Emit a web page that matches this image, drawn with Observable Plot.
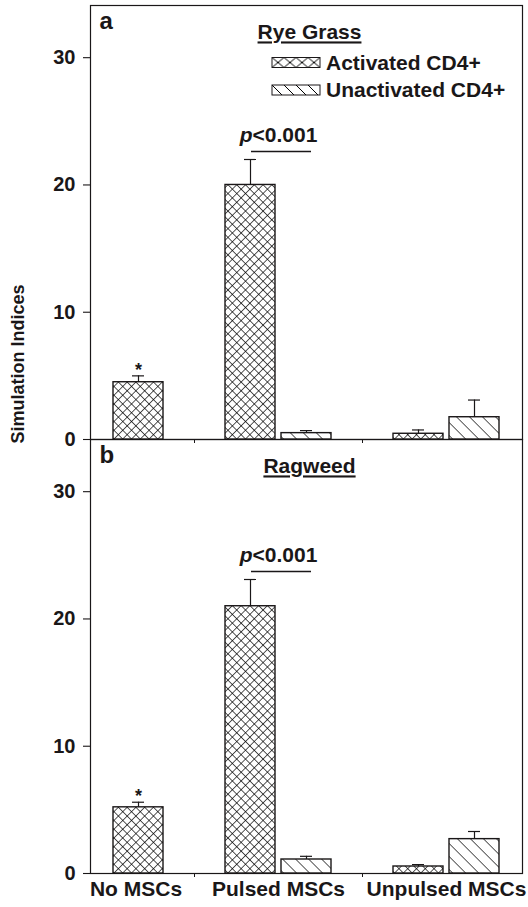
<!DOCTYPE html>
<html><head><meta charset="utf-8">
<script src="https://cdn.jsdelivr.net/npm/d3@7"></script>
<script src="https://cdn.jsdelivr.net/npm/@observablehq/plot@0.6"></script>
<style>
body{margin:0;background:#fff}
#chart{width:528px;height:907px;position:relative}
</style>
</head><body><div id="chart"></div>
<script>
// ---- data ----
const categories = ["No MSCs", "Pulsed MSCs", "Unpulsed MSCs"];
const series = ["Activated CD4+", "Unactivated CD4+"];
const panelKeys = ["a", "b"];
const panelTitles = ["Rye Grass", "Ragweed"];
// Rye grass
const ryeActivated = [4.5, 20.0, 0.45];
const ryeActivatedErr = [0.5, 2.0, 0.3];
const ryeUnactivated = [null, 0.5, 1.75];
const ryeUnactivatedErr = [null, 0.2, 1.35];
// Ragweed
const ragActivated = [5.2, 21.0, 0.55];
const ragActivatedErr = [0.4, 2.1, 0.15];
const ragUnactivated = [null, 1.1, 2.7];
const ragUnactivatedErr = [null, 0.25, 0.6];
const yTicks = [0, 10, 20, 30];
const yMax = 34.1;
const sigLabel = "<0.001";
const yTitle = "Simulation Indices";

// ---- build tables ----
const values = [[ryeActivated, ryeUnactivated], [ragActivated, ragUnactivated]];
const errors = [[ryeActivatedErr, ryeUnactivatedErr], [ragActivatedErr, ragUnactivatedErr]];
const slotKey = (c, s) => c + "|" + s;
const slots = [], gaps = [], catSlots = {};
categories.forEach((c, ci) => {
  if (ci > 0) { const g = "gap" + ci; slots.push(g); gaps.push(g); }
  catSlots[c] = [];
  series.forEach((s, si) => {
    if (values.some(p => p[si][ci] != null)) { slots.push(slotKey(c, s)); catSlots[c].push(slotKey(c, s)); }
  });
});
const bars = [];
panelKeys.forEach((p, pi) => categories.forEach((c, ci) => series.forEach((s, si) => {
  const v = values[pi][si][ci];
  if (v != null) bars.push({panel: p, category: c, series: s, slot: slotKey(c, s), value: v, err: errors[pi][si][ci]});
})));
const titles = panelKeys.map((p, i) => ({panel: p, title: panelTitles[i]}));
const letters = panelKeys.map(p => ({panel: p, letter: p}));
const sig = panelKeys.map(p => {
  const a = bars.find(d => d.panel === p && d.category === categories[1] && d.series === series[0]);
  return {panel: p, slot: a.slot, y: a.value + a.err};
});
const stars = bars.filter(d => d.category === categories[0]).map(d => ({...d, top: d.value + d.err}));
const gapTicks = panelKeys.flatMap(p => gaps.map(g => ({panel: p, slot: g})));

// ---- layout ----
const W = 528, H = 907, ML = 90, MR = 6, MT = 5, MB = 34;
const PI = 0.11, PO = 0.41;
const step = (W - ML - MR) / (slots.length - PI + 2 * PO);
const INK = "#1a1718";
const FONT = "'Liberation Sans', Arial, Helvetica, sans-serif";
const crossFill = "url(#hatchCross)", diagFill = "url(#hatchDiag)";

const catLabelMarks = categories.map(c => {
  const n = catSlots[c].length;
  return Plot.text([{panel: "b", slot: catSlots[c][0], label: c}], {
    fy: "panel", x: "slot", text: "label", frameAnchor: "bottom",
    dy: 22, dx: n > 1 ? (n - 1) * step / 2 : -2.5,
    fontSize: 21, fontWeight: "bold", fill: INK
  });
});

const plot = Plot.plot({
  width: W, height: H,
  marginLeft: ML, marginRight: MR, marginTop: MT, marginBottom: MB,
  style: {fontFamily: FONT, color: INK, background: "#fff"},
  x: {type: "band", domain: slots, paddingInner: PI, paddingOuter: PO, axis: null},
  y: {domain: [0, yMax], axis: null},
  fy: {domain: panelKeys, padding: 0, axis: null},
  marks: [
    Plot.frame({stroke: INK, strokeWidth: 1.2}),
    Plot.barY(bars.filter(d => d.series === series[0]), {fy: "panel", x: "slot", y: "value", fill: crossFill, stroke: INK, strokeWidth: 1.4}),
    Plot.barY(bars.filter(d => d.series === series[1]), {fy: "panel", x: "slot", y: "value", fill: diagFill, stroke: INK, strokeWidth: 1.4}),
    Plot.ruleX(bars, {fy: "panel", x: "slot", y1: "value", y2: d => d.value + d.err, stroke: INK, strokeWidth: 1.2}),
    Plot.tickY(bars, {fy: "panel", x: "slot", y: d => d.value + d.err, inset: 19, stroke: INK, strokeWidth: 1.2}),
    Plot.ruleX(gapTicks, {fy: "panel", x: "slot", y1: 0, y2: 0, insetBottom: -4, stroke: INK, strokeWidth: 1}),
    Plot.axisY({ticks: yTicks, tickSize: 7, tickPadding: 8, fontSize: 20, fontWeight: "bold", label: null, stroke: INK, fill: INK, strokeWidth: 1.1}),
    Plot.text(titles, {fy: "panel", text: "title", frameAnchor: "top", dy: 19, dx: 3, fontSize: 21, fontWeight: "bold", fill: INK}),
    Plot.text(letters, {fy: "panel", text: "letter", frameAnchor: "top-left", dx: 9, dy: 6, lineAnchor: "top", fontSize: 24, fontWeight: "bold", fill: INK}),
    Plot.text(sig, {fy: "panel", x: "slot", y: "y", text: () => "p", textAnchor: "end", dx: 2, dy: -24, fontSize: 21, fontWeight: "bold", fontStyle: "italic", fill: INK}),
    Plot.text(sig, {fy: "panel", x: "slot", y: "y", text: () => sigLabel, textAnchor: "start", dx: 2, dy: -24, fontSize: 21, fontWeight: "bold", fill: INK}),
    Plot.ruleY(sig, {fy: "panel", y: "y", x1: "slot", x2: d => slots[slots.indexOf(d.slot) + 1], insetLeft: 26, insetRight: 20, dy: -8, stroke: INK, strokeWidth: 1.3}),
    Plot.text(stars, {fy: "panel", x: "slot", y: "top", text: () => "*", dy: -6, fontSize: 18, fontWeight: "bold", fill: INK}),
    ...catLabelMarks
  ]
});
document.getElementById("chart").appendChild(plot);

// ---- patterns, underlines, y title, legend ----
const svg = d3.select(plot);
const defs = svg.insert("defs", ":first-child");
const CS = 6.2, DS = 9.2;
const pc = defs.append("pattern").attr("id", "hatchCross").attr("patternUnits", "userSpaceOnUse")
  .attr("width", CS).attr("height", CS).attr("patternTransform", "rotate(45)");
pc.append("rect").attr("width", CS).attr("height", CS).attr("fill", "#fff");
pc.append("path").attr("d", `M0,0V${CS}M0,0H${CS}`).attr("stroke", "#000").attr("stroke-width", 1.3);
const pd = defs.append("pattern").attr("id", "hatchDiag").attr("patternUnits", "userSpaceOnUse")
  .attr("width", DS).attr("height", DS).attr("patternTransform", "rotate(-45)");
pd.append("rect").attr("width", DS).attr("height", DS).attr("fill", "#fff");
pd.append("path").attr("d", `M0,0V${DS}`).attr("stroke", "#000").attr("stroke-width", 1.3);
const lc = defs.append("pattern").attr("id", "legCross").attr("patternUnits", "userSpaceOnUse")
  .attr("x", 272).attr("y", 57.5).attr("width", 12).attr("height", 10);
lc.append("rect").attr("width", 12).attr("height", 10).attr("fill", "#fff");
lc.append("path").attr("d", "M0,0L12,10M12,0L0,10").attr("stroke", "#000").attr("stroke-width", 1);
const ld = defs.append("pattern").attr("id", "legDiag").attr("patternUnits", "userSpaceOnUse")
  .attr("x", 272).attr("y", 85).attr("width", 12).attr("height", 10);
ld.append("rect").attr("width", 12).attr("height", 10).attr("fill", "#fff");
ld.append("path").attr("d", "M0,0L10,10M-12,0L-2,10M12,0L22,10").attr("stroke", "#000").attr("stroke-width", 1);

svg.selectAll("text").filter(function() { return panelTitles.includes(this.textContent); })
  .attr("text-decoration", "underline");

svg.append("text").attr("transform", "translate(18,364) rotate(-90)")
  .attr("text-anchor", "middle").attr("dy", "0.35em").attr("font-size", 18).attr("font-weight", "bold")
  .attr("fill", INK).text(yTitle);

const leg = svg.append("g").attr("font-size", 21).attr("font-weight", "bold").attr("fill", INK)
  .attr("text-anchor", "start");
[["legCross", 57.5, series[0]], ["legDiag", 85, series[1]]].forEach(([id, y, label]) => {
  leg.append("rect").attr("x", 272).attr("y", y).attr("width", 48).attr("height", 10)
    .attr("fill", `url(#${id})`).attr("stroke", INK).attr("stroke-width", 1);
  leg.append("text").attr("x", 326).attr("y", y + 5).attr("dy", "0.35em").attr("text-anchor", "start").text(label);
});
</script>
</body></html>
